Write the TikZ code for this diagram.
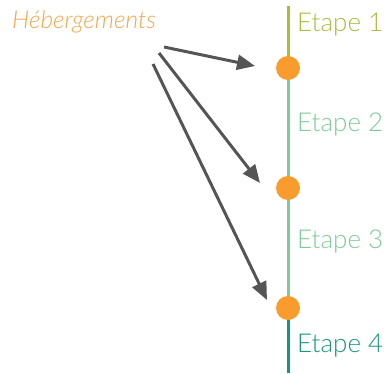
\documentclass[tikz,border=0pt]{standalone}
\usepackage{fontspec}
\setmainfont{Lato Light}
\usetikzlibrary{arrows.meta}
\definecolor{stepolive}{HTML}{A9BC3C}
\definecolor{steplight}{HTML}{7DCB98}
\definecolor{stepteal}{HTML}{17967A}
\definecolor{hotelorange}{HTML}{F89C2E}
\definecolor{hoteltext}{HTML}{F6A54A}
\definecolor{arrowgray}{HTML}{555555}
\tikzset{
    etape/.style={anchor=base west, inner sep=0pt, font=\fontsize{26}{26}\selectfont},
    stop/.style={circle, fill=hotelorange, inner sep=0pt, minimum size=24pt},
    link/.style={draw=arrowgray, line width=3pt, -{Triangle[length=18pt,width=15pt]}}
}
\begin{document}
\begin{tikzpicture}[x=1pt, y=-1pt]
    \useasboundingbox (0,0) rectangle (388,374);
    % --- route ---
    \coordinate (top) at (288,6); \coordinate (bot) at (288,373);
    \coordinate (c1) at (288,68); \coordinate (c3) at (288,308);
    \draw[stepolive, line width=3pt] (top)--(c1);
    \draw[steplight, line width=3pt] (c1)--(c3);
    \draw[stepteal, line width=3pt] (c3)--(bot);

    \node[stop] (s1) at (c1) {};
    \node[stop] (s2) at (288,188) {};
    \node[stop] (s3) at (c3) {};

    % --- labels ---
    \node[etape, text=stepolive] (e1) at (297,32) {Etape 1};
    \node[etape, text=steplight] (e2) at (297,132) {Etape 2};
    \node[etape, text=steplight] (e3) at (297,248) {Etape 3};
    \node[etape, text=stepteal] (e4) at (297,352) {Etape 4};

    \node[anchor=base west, inner sep=0pt, text=hoteltext, font=\fontsize{24.5}{24.5}\selectfont\itshape] (heb) at (12,29) {Hébergements};

    % --- arrows ---
    \coordinate (a1) at (164,47); \coordinate (b1) at (255,66);
    \coordinate (a2) at (159,53); \coordinate (b2) at (260,183);
    \coordinate (a3) at (153,64); \coordinate (b3) at (267,300);
    \draw[link] (a1)--(b1);
    \draw[link] (a2)--(b2);
    \draw[link] (a3)--(b3);
\end{tikzpicture}
\end{document}
